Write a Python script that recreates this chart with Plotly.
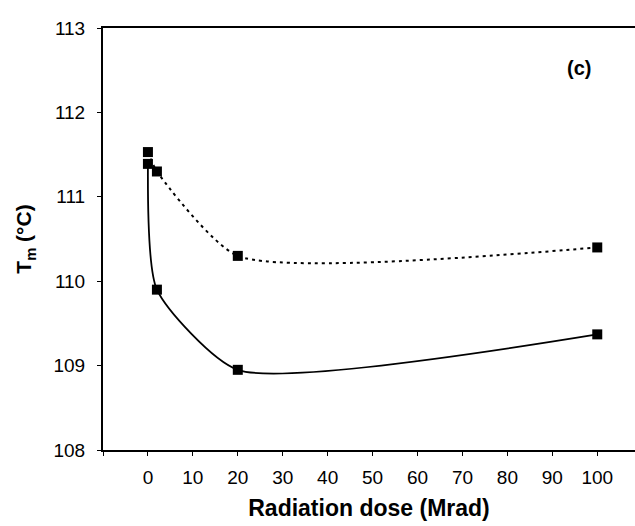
import plotly.graph_objects as go

# data
dose_dashed = [0, 2, 20, 100]
tm_dashed = [111.53, 111.30, 110.30, 110.40]
dose_solid = [0, 2, 20, 100]
tm_solid = [111.39, 109.90, 108.95, 109.37]

x_tickvals = [-10, 0, 10, 20, 30, 40, 50, 60, 70, 80, 90, 100]
x_ticktext = ["", "0", "10", "20", "30", "40", "50", "60", "70", "80", "90", "100"]
y_tickvals = [108, 109, 110, 111, 112, 113]

FONT = "Liberation Sans, Arial, sans-serif"

fig = go.Figure()
fig.add_trace(go.Scatter(
    x=dose_dashed, y=tm_dashed, mode="lines+markers",
    line=dict(color="black", width=2, dash="3px,4px", shape="spline", smoothing=0.6),
    marker=dict(symbol="square", size=10, color="black"),
    showlegend=False))
fig.add_trace(go.Scatter(
    x=dose_solid, y=tm_solid, mode="lines+markers",
    line=dict(color="black", width=1.8, shape="spline", smoothing=0.6),
    marker=dict(symbol="square", size=10, color="black"),
    showlegend=False))

fig.add_annotation(x=0.921, y=0.936, xref="paper", yref="paper",
                   text="<b>(c)</b>", showarrow=False,
                   font=dict(family=FONT, size=20, color="black"))

fig.update_layout(
    width=635, height=526,
    margin=dict(l=103, r=0, t=28, b=76),
    paper_bgcolor="white", plot_bgcolor="white",
    font=dict(family=FONT, color="black"),
    xaxis=dict(range=[-10, 108.4], tickvals=x_tickvals, ticktext=x_ticktext,
               showline=True, linecolor="black", linewidth=2, mirror=True,
               ticks="outside", ticklen=4, tickcolor="black", showgrid=False,
               zeroline=False, tickfont=dict(size=19), ticklabelstandoff=5,
               title=dict(text="<b>Radiation dose (Mrad)</b>", font=dict(size=23), standoff=13)),
    yaxis=dict(range=[108, 113], tickvals=y_tickvals,
               showline=True, linecolor="black", linewidth=2,
               ticks="outside", ticklen=4, tickcolor="black", showgrid=False,
               zeroline=False, tickfont=dict(size=19), ticklabelstandoff=8,
               title=dict(text="<b>T<sub>m</sub> (°C)</b>", font=dict(size=21), standoff=16)),
)

fig.write_html("out.html")
